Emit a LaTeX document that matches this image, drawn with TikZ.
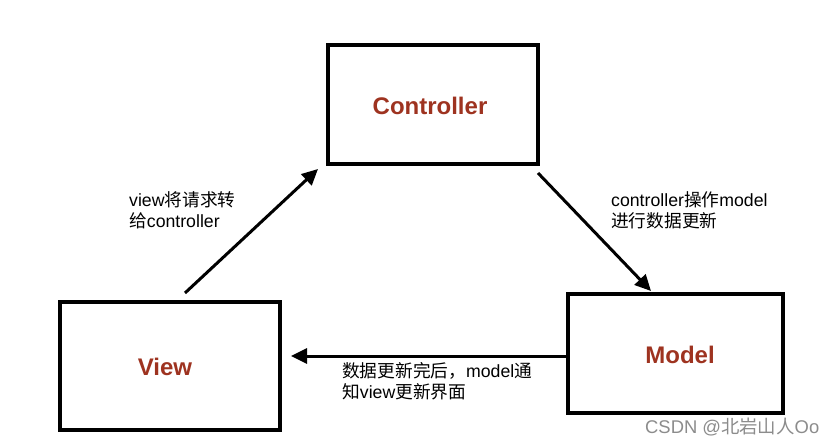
\documentclass[tikz,border=0pt]{standalone}
\usepackage{fontspec}
\setmainfont{Liberation Sans}
\newfontfamily\cjk{Noto Sans CJK SC}
\usetikzlibrary{arrows.meta}
\definecolor{titlered}{HTML}{9E3320}
\tikzset{
  box/.style={draw=black, line width=3.3pt, fill=white},
  title/.style={text=titlered, font=\fontsize{24}{28}\selectfont\bfseries},
  conn/.style={line width=3pt, -{Triangle[length=16pt,width=15pt]}},
  lbl/.style={font=\fontsize{17.7}{21}\selectfont, align=left, anchor=base west, inner sep=0pt},
}
\begin{document}
\begin{tikzpicture}[x=1pt,y=-1pt]
\useasboundingbox[fill=white] (0,0) rectangle (834,446);
\draw[box] (328,45) rectangle (538,164);
\draw[box] (60,302) rectangle (280,430);
\draw[box] (568,294) rectangle (783,413);
\node[title] (ctl) at (430,106) {Controller};
\node[title] (view) at (165,367) {View};
\node[title] (model) at (680,355) {Model};
\coordinate (vs) at (185,293);
\coordinate (ve) at (318,169);
\coordinate (cs) at (538,173);
\coordinate (ce) at (651,291);
\coordinate (ms) at (566,356);
\coordinate (me) at (291,356);
\draw[conn] (vs) -- (ve);
\draw[conn] (cs) -- (ce);
\draw[conn] (ms) -- (me);
\node[lbl] (l1) at (129,228) {view{\cjk 将请求转}\\{\cjk 给}controller};
\node[lbl] (l2) at (611,228) {controller{\cjk 操作}model\\{\cjk 进行数据更新}};
\node[lbl] (l3) at (342,398) {{\cjk 数据更新完后，}model{\cjk 通}\\{\cjk 知}view{\cjk 更新界面}};
\node[font=\fontsize{18.4}{20}\selectfont, text=black!45, anchor=base west, inner sep=0pt] (wm) at (645,433) {CSDN @{\cjk 北岩山人}Oo};
\end{tikzpicture}
\end{document}
